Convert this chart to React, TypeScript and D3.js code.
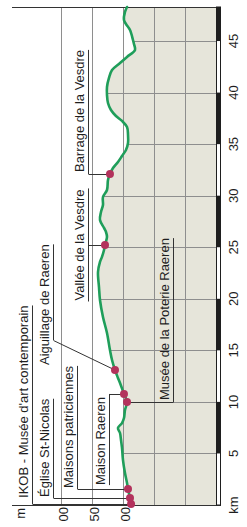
import * as d3 from "d3";
import { useEffect, useRef } from "react";

const W = 247;
const H = 527;

/* ------------------------------------------------------------------ */
/*  Data                                        */
/* ------------------------------------------------------------------ */

// route profile: distance (km) and elevation (m)
const PROFILE_KM = [
  0, 0.1, 0.68, 1.55, 2.13, 3.1, 4.36, 5.53, 6.3, 6.98, 7.47, 7.95, 8.44, 9.21,
  9.99, 10.77, 11.83, 12.32, 13.09, 14.06, 15.03, 16.68, 18.23, 19.88, 21.14,
  22.6, 23.57, 24.06, 24.73, 25.22, 25.99, 26.48, 26.87, 27.64, 28.42, 29.1,
  29.87, 30.55, 31.52, 32.1, 32.69, 33.27, 33.85, 34.43, 35.11, 35.89, 36.66,
  37.25, 37.73, 38.31, 38.99, 39.77, 40.54, 41.42, 42.19, 42.87, 43.46, 44.13,
  44.71, 45.1, 46.07, 46.65, 47.04, 47.82, 48.3,
];
const PROFILE_ELEV = [
  286, 287, 288.7, 291.9, 293.5, 296.8, 300, 301.6, 303.2, 304.8, 308.1, 301.6,
  298.4, 296.8, 293.5, 298.4, 304.8, 308.1, 312.9, 317.7, 321, 325.8, 332.3,
  337.1, 338.7, 340.3, 337.1, 333.9, 330.6, 329, 325.8, 327.4, 330.6, 337.1,
  335.5, 332.3, 332.3, 325.8, 324.2, 321, 316.1, 308.1, 301.6, 295.2, 291.9,
  291.9, 293.5, 301.6, 311.3, 319.4, 324.2, 325.8, 325.8, 322.6, 317.7, 304.8,
  293.5, 280.6, 282.3, 283.9, 288.7, 295.2, 298.4, 296.8, 293.5,
];

// points of interest
const POI_NAMES = [
  "IKOB - Musée d'art contemporain",
  "Église St-Nicolas",
  "Maisons patriciennes",
  "Musée de la Poterie Raeren",
  "Maison Raeren",
  "Aiguillage de Raeren",
  "Vallée de la Vesdre",
  "Barrage de la Vesdre",
];
const POI_KM = [0.1, 0.68, 1.55, 9.99, 10.77, 13.09, 25.22, 32.1];
const POI_ELEV = [287, 288.7, 291.9, 293.5, 298.4, 312.9, 329, 321];

// axes
const KM_MAX = 48.3;
const KM_TICKS = [0, 5, 10, 15, 20, 25, 30, 35, 40, 45];
const KM_TICK_LABELS = ["km", "5", "10", "15", "20", "25", "30", "35", "40", "45"];
const ELEV_MIN = 150;
const ELEV_MAX = 479;
const ELEV_GRID = [200, 250, 300, 350, 400];
const ELEV_TICKS = [400, 350, 300];
// the first digit of each label is cut off by the edge of the picture
const ELEV_TICK_LABELS = ["00", "50", "00"];

/* ------------------------------------------------------------------ */
/*  Label layout (px)                                                  */
/* ------------------------------------------------------------------ */

const LABEL_COL = [32, 53, 77, 173, 109, 53, 88, 88];
const LABEL_ANCHOR = ["start", "start", "start", "start", "end", "start", "middle", "start"];
const LABEL_TEXT_OFFSET = [-6, -1, -1, -2, 3, -5, 0, -2];
const LABEL_ELBOW_OFFSET = [0, 0, 0, 0, 0, -30, 0, 0];

/* ------------------------------------------------------------------ */
/*  Theme                                                              */
/* ------------------------------------------------------------------ */

const FONT = "'Liberation Sans', Arial, Helvetica, sans-serif";
const AREA = "#e6e5da";
const GRID = "#8e8e8e";
const INK = "#1e1e1e";
const LEADER = "#333333";
const GREEN = "#1f9e5a";
const DOT = "#b3325c";

type P = { km: number; elev: number };

export default function App() {
  const svgRef = useRef<SVGSVGElement>(null);

  useEffect(() => {
    const svgEl = svgRef.current;
    if (!svgEl) return;
    const svg = d3.select(svgEl);
    svg.selectAll("*").remove();

    const data: P[] = PROFILE_KM.map((km, i) => ({ km, elev: PROFILE_ELEV[i] }));

    const y = d3.scaleLinear().domain([0, KM_MAX]).range([505, 7]);
    const x = d3.scaleLinear().domain([ELEV_MIN, ELEV_MAX]).range([216, 12]);

    const curve = d3.curveCatmullRom.alpha(0.5);
    const area = d3
      .area<P>()
      .y((d) => y(d.km))
      .x0((d) => x(d.elev))
      .x1(x(ELEV_MIN))
      .curve(curve);
    const line = d3
      .line<P>()
      .x((d) => x(d.elev))
      .y((d) => y(d.km))
      .curve(curve);

    svg
      .append("defs")
      .append("clipPath")
      .attr("id", "profile-clip")
      .append("path")
      .attr("d", area(data));

    /* Filled profile */
    svg.append("path").attr("d", area(data)).attr("fill", AREA);

    /* Km grid, only inside the filled area */
    svg
      .append("g")
      .attr("clip-path", "url(#profile-clip)")
      .selectAll("line")
      .data(KM_TICKS.filter((k) => k > 0))
      .join("line")
      .attr("x1", x(ELEV_MAX))
      .attr("x2", x(ELEV_MIN))
      .attr("y1", (d) => Math.round(y(d)) + 0.5)
      .attr("y2", (d) => Math.round(y(d)) + 0.5)
      .attr("stroke", GRID)
      .attr("stroke-width", 1);

    /* Elevation grid */
    svg
      .append("g")
      .selectAll("line")
      .data(ELEV_GRID)
      .join("line")
      .attr("x1", (d) => Math.round(x(d)) + 0.5)
      .attr("x2", (d) => Math.round(x(d)) + 0.5)
      .attr("y1", y(KM_MAX))
      .attr("y2", y(0))
      .attr("stroke", GRID)
      .attr("stroke-width", 1);

    /* Top and bottom rules */
    [KM_MAX, 0].forEach((k) => {
      svg
        .append("line")
        .attr("x1", x(ELEV_MAX))
        .attr("x2", x(ELEV_MIN) + 5)
        .attr("y1", Math.round(y(k)) + 0.5)
        .attr("y2", Math.round(y(k)) + 0.5)
        .attr("stroke", LEADER)
        .attr("stroke-width", 1);
    });

    /* Km scale bar (alternating) */
    const barX = x(ELEV_MIN) + 0.5;
    const bands = KM_TICKS.map((k, i) => ({
      from: k,
      to: i < KM_TICKS.length - 1 ? KM_TICKS[i + 1] : KM_MAX,
      dark: i % 2 === 1,
    }));
    svg
      .append("rect")
      .attr("x", barX)
      .attr("y", y(KM_MAX))
      .attr("width", 4)
      .attr("height", y(0) - y(KM_MAX))
      .attr("fill", "#ffffff")
      .attr("stroke", INK)
      .attr("stroke-width", 1);
    svg
      .append("g")
      .selectAll("rect")
      .data(bands.filter((b) => b.dark))
      .join("rect")
      .attr("x", barX)
      .attr("y", (d) => y(d.to))
      .attr("width", 4.5)
      .attr("height", (d) => y(d.from) - y(d.to))
      .attr("fill", INK);

    /* Km tick labels */
    svg
      .append("g")
      .selectAll("text")
      .data(KM_TICKS)
      .join("text")
      .attr("transform", (d) => `translate(233,${y(d)}) rotate(-90)`)
      .attr("text-anchor", "middle")
      .attr("dy", "0.35em")
      .attr("font-family", FONT)
      .attr("font-size", 13)
      .attr("fill", INK)
      .text((_, i) => KM_TICK_LABELS[i]);

    /* Elevation tick labels */
    const elevLabels = svg.append("g");
    elevLabels
      .append("text")
      .attr("transform", `translate(20,508) rotate(-90)`)
      .attr("text-anchor", "end")
      .attr("dy", "0.35em")
      .attr("font-family", FONT)
      .attr("font-size", 13)
      .attr("fill", INK)
      .text("m");
    elevLabels
      .selectAll("text.tick")
      .data(ELEV_TICKS)
      .join("text")
      .attr("class", "tick")
      .attr("transform", (d) => `translate(${x(d) + 2},507) rotate(-90)`)
      .attr("text-anchor", "end")
      .attr("dy", "0.35em")
      .attr("font-family", FONT)
      .attr("font-size", 13)
      .attr("fill", INK)
      .text((_, i) => ELEV_TICK_LABELS[i]);

    /* Annotations: underline + leader + text */
    const notes = svg.append("g");
    const texts = svg.append("g");
    POI_NAMES.forEach((name, i) => {
      const px = x(POI_ELEV[i]);
      const py = y(POI_KM[i]);
      const ux = LABEL_COL[i] + 0.5;
      const elbowY = py + LABEL_ELBOW_OFFSET[i];
      const ty = py + LABEL_TEXT_OFFSET[i];
      const anchor = LABEL_ANCHOR[i];

      const t = texts
        .append("text")
        .attr("transform", `translate(${ux - 4.5},${ty}) rotate(-90)`)
        .attr("text-anchor", anchor)
        .attr("font-family", FONT)
        .attr("font-size", 13)
        .attr("fill", INK)
        .text(name);
      const len = (t.node() as SVGTextElement).getComputedTextLength();

      let y1 = elbowY;
      let y2 = ty - len;
      if (anchor === "end") y2 = ty + len;
      if (anchor === "middle") {
        y1 = ty + len / 2 + 1;
        y2 = ty - len / 2 - 1;
      }

      notes
        .append("line")
        .attr("x1", ux)
        .attr("x2", ux)
        .attr("y1", y1)
        .attr("y2", y2)
        .attr("stroke", LEADER)
        .attr("stroke-width", 1);
      notes
        .append("line")
        .attr("x1", ux)
        .attr("y1", Math.round(elbowY) + 0.5)
        .attr("x2", px)
        .attr("y2", LABEL_ELBOW_OFFSET[i] === 0 ? Math.round(py) + 0.5 : py)
        .attr("stroke", LEADER)
        .attr("stroke-width", 1);
    });

    /* Profile line */
    svg
      .append("path")
      .attr("d", line(data))
      .attr("fill", "none")
      .attr("stroke", GREEN)
      .attr("stroke-width", 2.6)
      .attr("stroke-linejoin", "round")
      .attr("stroke-linecap", "round");

    /* POI dots */
    svg
      .append("g")
      .selectAll("circle")
      .data(POI_KM)
      .join("circle")
      .attr("cx", (_, i) => x(POI_ELEV[i]))
      .attr("cy", (d) => y(d))
      .attr("r", 4)
      .attr("fill", DOT);

    svg.node()?.appendChild(texts.node() as SVGGElement);
  }, []);

  return (
    <svg
      ref={svgRef}
      width={W}
      height={H}
      style={{ position: "absolute", left: 0, top: 0, display: "block", background: "#fff" }}
    />
  );
}
